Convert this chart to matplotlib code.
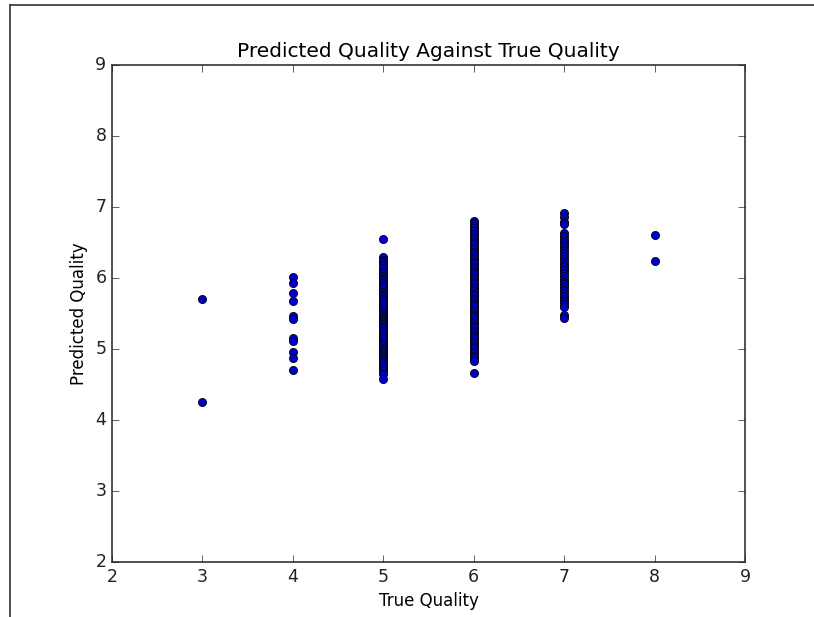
import matplotlib
matplotlib.use("Agg")
import matplotlib.pyplot as plt
from matplotlib.lines import Line2D

plt.style.use("classic")

# Predicted quality values, grouped by true quality
q3 = [5.71, 4.25]
q4 = [6.01, 5.93, 5.79, 5.68, 5.46, 5.42, 5.15, 5.11, 4.96, 4.87, 4.70]
q5 = [6.55, 6.30, 6.26, 6.22, 6.18, 6.14, 6.10, 6.07, 6.03, 6.00, 5.97, 5.93,
      5.90, 5.87, 5.84, 5.80, 5.77, 5.74, 5.71, 5.68, 5.65, 5.62, 5.59, 5.56,
      5.53, 5.50, 5.47, 5.44, 5.41, 5.38, 5.35, 5.32, 5.29, 5.26, 5.23, 5.20,
      5.17, 5.14, 5.11, 5.08, 5.05, 5.02, 4.99, 4.96, 4.93, 4.90, 4.87, 4.84,
      4.81, 4.78, 4.75, 4.72, 4.69, 4.65, 4.58]
q6 = [6.80, 6.77, 6.73, 6.70, 6.66, 6.62, 6.58, 6.55, 6.51, 6.48, 6.44, 6.41,
      6.37, 6.34, 6.30, 6.27, 6.23, 6.20, 6.16, 6.13, 6.09, 6.06, 6.02, 5.99,
      5.95, 5.92, 5.88, 5.85, 5.81, 5.78, 5.74, 5.71, 5.67, 5.64, 5.60, 5.57,
      5.53, 5.50, 5.46, 5.43, 5.39, 5.36, 5.32, 5.29, 5.25, 5.22, 5.18, 5.15,
      5.11, 5.08, 5.04, 5.01, 4.97, 4.94, 4.90, 4.87, 4.83, 4.66]
q7 = [6.91, 6.86, 6.79, 6.76, 6.63, 6.59, 6.55, 6.51, 6.47, 6.43, 6.39, 6.35,
      6.31, 6.27, 6.23, 6.19, 6.15, 6.11, 6.07, 6.03, 5.99, 5.95, 5.91, 5.87,
      5.83, 5.79, 5.75, 5.71, 5.67, 5.63, 5.59, 5.48, 5.44]
q8 = [6.61, 6.24]

groups = {3: q3, 4: q4, 5: q5, 6: q6, 7: q7, 8: q8}
true_q = []
pred_q = []
for k, vals in groups.items():
    true_q += [k] * len(vals)
    pred_q += vals

xticks = [2, 3, 4, 5, 6, 7, 8, 9]
yticks = [2, 3, 4, 5, 6, 7, 8, 9]

fig = plt.figure(figsize=(8.14, 6.17), dpi=100, facecolor="white")
ax = fig.add_axes([112 / 814, 55 / 617, 633 / 814, 497 / 617])
ax.set_facecolor("white")
ax.scatter(true_q, pred_q, s=34, c="#0000cc", edgecolors="black", linewidths=0.6, zorder=3)
ax.set_xlim(2, 9)
ax.set_ylim(2, 9)
ax.set_xticks(xticks)
ax.set_yticks(yticks)
ax.tick_params(labelsize=12.5, colors="#222222", direction="in", length=5)
for s in ax.spines.values():
    s.set_color("#444444")
    s.set_linewidth(1.3)
ax.set_title("Predicted Quality Against True Quality", fontsize=14.5, pad=6)
ax.set_xlabel("True Quality", fontsize=12)
ax.set_ylabel("Predicted Quality", fontsize=12)

# screenshot frame lines (top and left)
fig.add_artist(Line2D([10 / 814, 1.0], [1 - 5 / 617, 1 - 5 / 617], transform=fig.transFigure, color="#333333", lw=1.2))
fig.add_artist(Line2D([10 / 814, 10 / 814], [0, 1 - 5 / 617], transform=fig.transFigure, color="#333333", lw=1.2))

fig.savefig("out.png", dpi=100, facecolor="white")
